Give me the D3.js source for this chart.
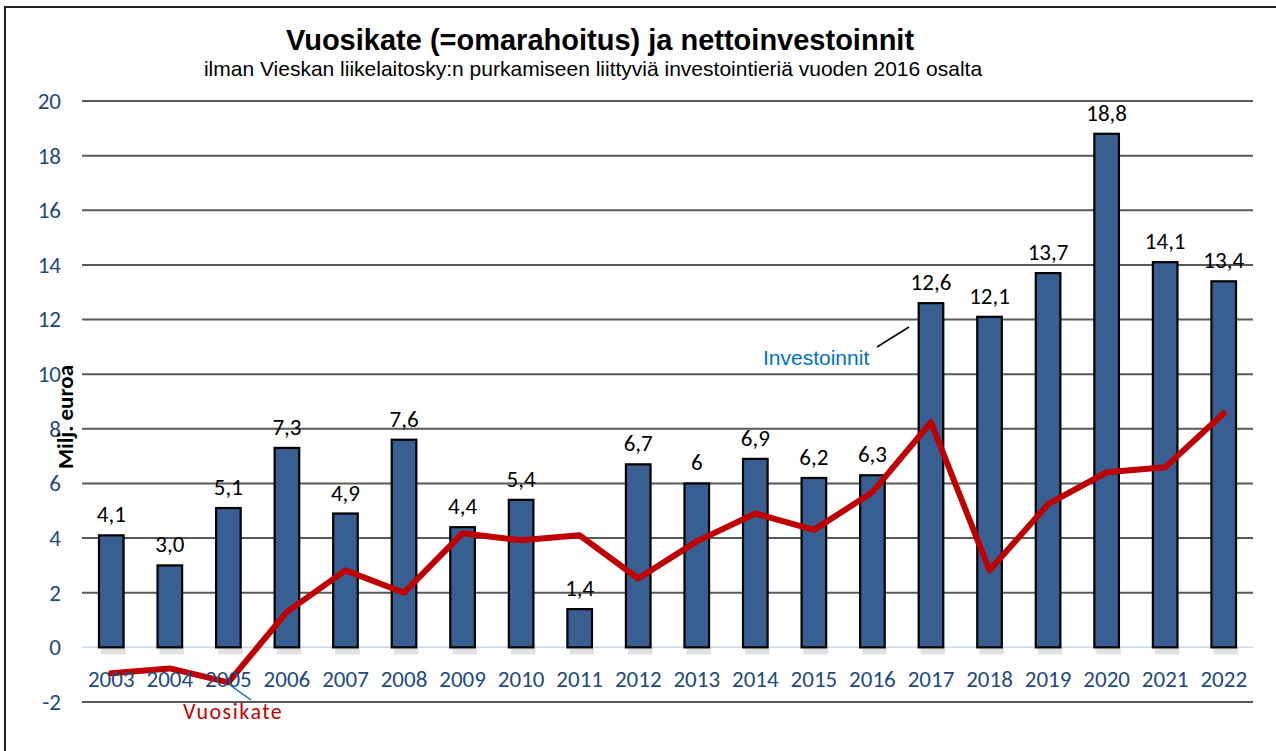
<!DOCTYPE html>
<html><head><meta charset="utf-8">
<script src="https://cdn.jsdelivr.net/npm/d3@7"></script>
<style>body{margin:0;background:#fff;}svg{display:block;}</style>
</head><body>
<svg id="chart" width="1276" height="751"></svg>
<script>
const years = ["2003","2004","2005","2006","2007","2008","2009","2010","2011","2012","2013","2014","2015","2016","2017","2018","2019","2020","2021","2022"];
const investoinnit = [4.1,3.0,5.1,7.3,4.9,7.6,4.4,5.4,1.4,6.7,6,6.9,6.2,6.3,12.6,12.1,13.7,18.8,14.1,13.4];
const investLabels = ["4,1","3,0","5,1","7,3","4,9","7,6","4,4","5,4","1,4","6,7","6","6,9","6,2","6,3","12,6","12,1","13,7","18,8","14,1","13,4"];
const vuosikate = [-0.95,-0.77,-1.28,1.3,2.82,2.0,4.18,3.92,4.1,2.52,3.88,4.9,4.3,5.68,8.24,2.82,5.24,6.41,6.59,8.57];
const yTicks = [-2,0,2,4,6,8,10,12,14,16,18,20];

const svg = d3.select("#chart");
const calibri = "Carlito, Lato, 'Open Sans', sans-serif";
const arial = "'Liberation Sans', Arial, sans-serif";

svg.append("rect").attr("x",5).attr("y",7).attr("width",1290).attr("height",760)
  .attr("fill","none").attr("stroke","#222").attr("stroke-width",2);

const x = d3.scaleBand().domain(years).range([82,1253]).paddingInner(0.58).paddingOuter(0.29);
const y = d3.scaleLinear().domain([-2,20]).range([702,101]);

// gridlines
svg.append("g").selectAll("line").data(yTicks.filter(d=>d!==0)).join("line")
  .attr("x1",82).attr("x2",1253).attr("y1",d=>y(d)).attr("y2",d=>y(d))
  .attr("stroke","#595959").attr("stroke-width",2);

// y tick labels
const yAxis = d3.axisLeft(y).tickValues(yTicks).tickSize(0).tickPadding(0).tickFormat(d=>String(d));
const ya = svg.append("g").attr("transform","translate(61,0)").call(yAxis);
ya.select(".domain").remove();
ya.selectAll("text").attr("fill","#1F497D").style("font-family",calibri).style("font-size","23px");

// shadows
svg.append("g").selectAll("rect").data(investoinnit).join("rect")
  .attr("x",(d,i)=>x(years[i])+2).attr("y",y(0)+1).attr("width",x.bandwidth()).attr("height",6)
  .attr("fill","#d9d9d9").attr("opacity",0.8);

// zero line
svg.append("line").attr("x1",82).attr("x2",1253).attr("y1",y(0)).attr("y2",y(0))
  .attr("stroke","#c6d9f1").attr("stroke-width",1.5);

// bars
svg.append("g").selectAll("rect").data(investoinnit).join("rect")
  .attr("x",(d,i)=>x(years[i])).attr("y",d=>y(d)).attr("width",x.bandwidth()).attr("height",d=>y(0)-y(d))
  .attr("fill","#375F91").attr("stroke","#000").attr("stroke-width",2.2);

// bar labels
svg.append("g").selectAll("text").data(investoinnit).join("text")
  .attr("x",(d,i)=>x(years[i])+x.bandwidth()/2).attr("y",d=>y(d)-13)
  .attr("text-anchor","middle").attr("fill","#000")
  .style("font-family",calibri).style("font-size","23px")
  .text((d,i)=>investLabels[i]);

// line
const line = d3.line().x((d,i)=>x(years[i])+x.bandwidth()/2).y(d=>y(d));
svg.append("path").datum(vuosikate).attr("d",line).attr("fill","none")
  .attr("stroke","#C00000").attr("stroke-width",6).attr("stroke-linejoin","round").attr("stroke-linecap","round");

// x labels (drawn above the line)
const xAxis = d3.axisBottom(x).tickSize(0).tickPadding(0);
const xa = svg.append("g").attr("transform",`translate(0,687)`).call(xAxis);
xa.select(".domain").remove();
xa.selectAll("text").attr("fill","#1F497D").attr("dy","0").attr("y",0).style("font-family",calibri).style("font-size","23px");

// title
svg.append("text").attr("x",600).attr("y",50).attr("text-anchor","middle")
  .style("font-family",arial).style("font-weight","bold").style("font-size","29px").attr("fill","#000")
  .text("Vuosikate (=omarahoitus) ja nettoinvestoinnit");
svg.append("text").attr("x",593).attr("y",76).attr("text-anchor","middle")
  .style("font-family",arial).style("font-size","21px").attr("fill","#000")
  .text("ilman Vieskan liikelaitosky:n purkamiseen liittyviä investointieriä vuoden 2016 osalta");

// y axis title
svg.append("text").attr("transform","translate(73,417) rotate(-90)").attr("text-anchor","middle")
  .style("font-family",calibri).style("font-weight","bold").style("font-size","23px").attr("fill","#000")
  .text("Milj. euroa");

// annotations
svg.append("line").attr("x1",877).attr("y1",347).attr("x2",909).attr("y2",327).attr("stroke","#000").attr("stroke-width",1.5);
svg.append("text").attr("x",763).attr("y",365)
  .style("font-family",arial).style("font-size","21px").attr("fill","#0070C0").text("Investoinnit");
svg.append("line").attr("x1",230).attr("y1",685).attr("x2",251).attr("y2",700).attr("stroke","#0070C0").attr("stroke-width",1.5);
svg.append("text").attr("x",183).attr("y",719).attr("letter-spacing","1.5px")
  .style("font-family",calibri).style("font-size","22px").attr("fill","#C00000").text("Vuosikate");
</script>
</body></html>
